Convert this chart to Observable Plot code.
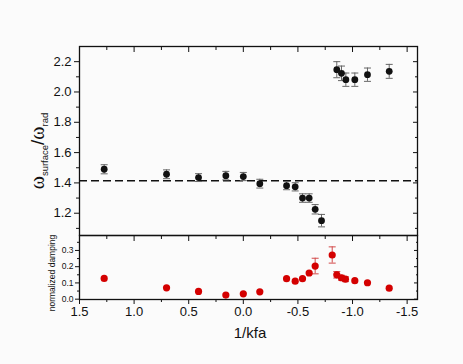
<!DOCTYPE html>
<html><head><meta charset="utf-8">
<script src="https://cdn.jsdelivr.net/npm/d3@7"></script>
<script src="https://cdn.jsdelivr.net/npm/@observablehq/plot@0.6"></script>
<style>
body{margin:0;background:#fbfbfb;}
#chart{position:relative;width:463px;height:364px;background:#fbfbfb;font-family:"Liberation Sans",Arial,sans-serif;}
#chart svg{position:absolute;left:0;overflow:visible;}
</style></head><body><div id="chart"></div>
<script>
// ---- data ----
const freqX = [1.274, 0.703, 0.41, 0.16, 0.0, -0.151, -0.396, -0.475, -0.542, -0.603, -0.658, -0.716, -0.856, -0.899, -0.939, -1.021, -1.137, -1.336];
const freqY = [1.49, 1.457, 1.435, 1.448, 1.442, 1.395, 1.382, 1.374, 1.30, 1.30, 1.226, 1.151, 2.147, 2.123, 2.081, 2.081, 2.114, 2.136];
const freqErr = [0.03, 0.029, 0.026, 0.028, 0.027, 0.029, 0.027, 0.027, 0.028, 0.028, 0.031, 0.041, 0.053, 0.048, 0.044, 0.044, 0.044, 0.046];
const dampX = [1.274, 0.703, 0.41, 0.16, 0.0, -0.151, -0.396, -0.475, -0.542, -0.603, -0.658, -0.814, -0.856, -0.899, -0.935, -1.021, -1.137, -1.336];
const dampY = [0.128, 0.07, 0.048, 0.025, 0.033, 0.045, 0.126, 0.111, 0.126, 0.161, 0.204, 0.272, 0.15, 0.132, 0.123, 0.114, 0.101, 0.068];
const dampErr = [0, 0, 0, 0, 0, 0, 0, 0, 0, 0, 0.048, 0.05, 0.02, 0.015, 0.015, 0, 0, 0];
const xTicks = [1.5, 1.0, 0.5, 0.0, -0.5, -1.0, -1.5];
const xMinor = [1.25, 0.75, 0.25, -0.25, -0.75, -1.25];
const freqTicks = [1.2, 1.4, 1.6, 1.8, 2.0, 2.2];
const freqMinor = [1.1, 1.3, 1.5, 1.7, 1.9, 2.1];
const dampTicks = [0.0, 0.1, 0.2, 0.3];
const dampMinor = [0.05, 0.15, 0.25, 0.35];
const refLevel = Math.SQRT2;
const xTitle = "1/kfa";
const dampTitle = "normalized damping";

const font = "'Liberation Sans', Arial, sans-serif";
const xDomain = [1.5, -1.595];
const cap = {draw(ctx) { ctx.moveTo(-3.5, 0); ctx.lineTo(3.5, 0); }};
const fmt = d => d.toFixed(1).replace("\u2212", "-");
const ink = "#111";

const fi = freqX.map((_, i) => i);
const di = dampX.map((_, i) => i).filter(i => dampErr[i] > 0);
const dall = dampX.map((_, i) => i);

const upper = Plot.plot({
  width: 463, height: 240, marginTop: 46, marginBottom: 5, marginLeft: 79, marginRight: 46,
  style: {background: "transparent", fontFamily: font, fontSize: "13px", color: ink},
  x: {domain: xDomain},
  y: {domain: [1.053, 2.3]},
  marks: [
    Plot.ruleY([refLevel], {stroke: ink, strokeWidth: 1.3, strokeDasharray: "8,4"}),
    Plot.ruleX(fi, {x: i => freqX[i], y1: i => freqY[i] - freqErr[i], y2: i => freqY[i] + freqErr[i], stroke: "#666", strokeWidth: 1}),
    Plot.dot(fi, {x: i => freqX[i], y: i => freqY[i] - freqErr[i], symbol: cap, stroke: "#666", strokeWidth: 1}),
    Plot.dot(fi, {x: i => freqX[i], y: i => freqY[i] + freqErr[i], symbol: cap, stroke: "#666", strokeWidth: 1}),
    Plot.dot(fi, {x: i => freqX[i], y: i => freqY[i], r: 3.4, fill: ink}),
    Plot.axisX(xTicks, {anchor: "top", tickSize: -5, tickFormat: () => "", label: null, stroke: ink}),
    Plot.axisX(xMinor, {anchor: "top", tickSize: -3, tickFormat: () => "", label: null, stroke: ink}),
    Plot.axisY(freqTicks, {anchor: "left", tickSize: 5, tickPadding: 3, tickFormat: fmt, label: null, fontSize: 13, stroke: ink}),
    Plot.axisY(freqMinor, {anchor: "left", tickSize: 3, tickFormat: () => "", label: null, stroke: ink}),
    Plot.axisY(freqTicks, {anchor: "right", tickSize: -5, tickFormat: () => "", label: null, stroke: ink}),
    Plot.axisY(freqMinor, {anchor: "right", tickSize: -3, tickFormat: () => "", label: null, stroke: ink}),
    Plot.frame({stroke: ink, strokeWidth: 1.3})
  ]
});
upper.style.top = "0px";

const lower = Plot.plot({
  width: 463, height: 129, marginTop: 0, marginBottom: 65, marginLeft: 79, marginRight: 46,
  style: {background: "transparent", fontFamily: font, fontSize: "13px", color: ink},
  x: {domain: xDomain},
  y: {domain: [-0.002, 0.392]},
  marks: [
    Plot.ruleX(di, {x: i => dampX[i], y1: i => dampY[i] - dampErr[i], y2: i => dampY[i] + dampErr[i], stroke: "#d24a4a", strokeWidth: 1}),
    Plot.dot(di, {x: i => dampX[i], y: i => dampY[i] - dampErr[i], symbol: cap, stroke: "#d24a4a", strokeWidth: 1}),
    Plot.dot(di, {x: i => dampX[i], y: i => dampY[i] + dampErr[i], symbol: cap, stroke: "#d24a4a", strokeWidth: 1}),
    Plot.dot(dall, {x: i => dampX[i], y: i => dampY[i], r: 3.6, fill: "#d40000"}),
    Plot.axisX(xTicks, {anchor: "bottom", tickSize: 5, tickPadding: 2, tickFormat: fmt, label: null, fontSize: 13, stroke: ink}),
    Plot.axisX(xMinor, {anchor: "bottom", tickSize: 3, tickFormat: () => "", label: null, stroke: ink}),
    Plot.axisX(xTicks, {anchor: "top", tickSize: -5, tickFormat: () => "", label: null, stroke: ink}),
    Plot.axisX(xMinor, {anchor: "top", tickSize: -3, tickFormat: () => "", label: null, stroke: ink}),
    Plot.axisY(dampTicks, {anchor: "left", tickSize: 4, tickPadding: 2, tickFormat: fmt, label: null, fontSize: 8.5, stroke: ink}),
    Plot.axisY(dampMinor, {anchor: "left", tickSize: 2, tickFormat: () => "", label: null, stroke: ink}),
    Plot.axisY(dampTicks, {anchor: "right", tickSize: -4, tickFormat: () => "", label: null, stroke: ink}),
    Plot.axisY(dampMinor, {anchor: "right", tickSize: -2, tickFormat: () => "", label: null, stroke: ink}),
    Plot.frame({stroke: ink, strokeWidth: 1.3})
  ]
});
lower.style.top = "235px";

const chart = document.getElementById("chart");
chart.append(upper, lower);

// y label of upper panel with subscripts
const ut = d3.select(upper).append("text")
  .attr("transform", "translate(44,151) rotate(-90)")
  .attr("text-anchor", "middle").attr("fill", ink);
ut.append("tspan").attr("font-family", "'Liberation Serif', 'DejaVu Serif', serif").attr("font-size", 20).text("ω");
ut.append("tspan").attr("font-family", font).attr("font-size", 9.5).attr("dy", 4).text("surface");
ut.append("tspan").attr("font-family", font).attr("font-size", 19).attr("dy", -4).text("/");
ut.append("tspan").attr("font-family", "'Liberation Serif', 'DejaVu Serif', serif").attr("font-size", 20).text("ω");
ut.append("tspan").attr("font-family", font).attr("font-size", 9.5).attr("dy", 4).text("rad");

// y label of lower panel
d3.select(lower).append("text")
  .attr("transform", "translate(55,38) rotate(-90)")
  .attr("text-anchor", "middle").attr("font-family", font).attr("font-size", 8.5).attr("fill", ink)
  .text(dampTitle);

// x title
d3.select(lower).append("text")
  .attr("x", 250).attr("y", 103)
  .attr("text-anchor", "middle").attr("font-family", font).attr("font-size", 15).attr("fill", ink)
  .text(xTitle);
</script></body></html>
